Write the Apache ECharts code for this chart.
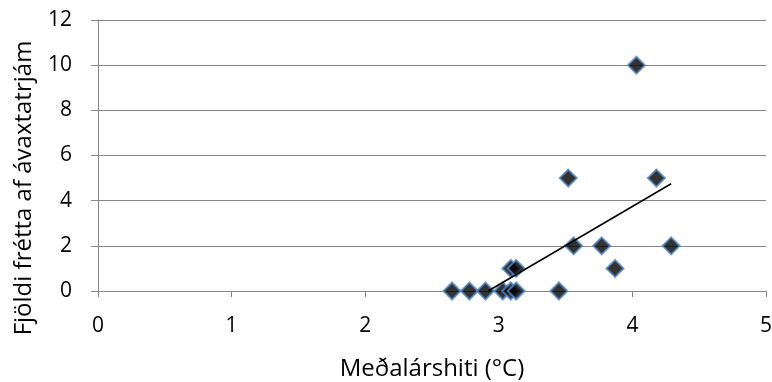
<!DOCTYPE html>
<html>
<head>
<meta charset="utf-8">
<script src="https://cdn.jsdelivr.net/npm/echarts@6/dist/echarts.min.js"></script>
<style>
  html, body { margin: 0; padding: 0; background: #fff; }
  #main { width: 772px; height: 382px; }
</style>
</head>
<body>
<div id="main"></div>
<script>
// meðalárshiti (°C) og fjöldi frétta
let hiti = [2.65, 2.78, 2.90, 3.03, 3.09, 3.13, 3.45, 3.09, 3.13, 3.87, 3.56, 3.77, 4.29, 3.52, 4.18, 4.03];
let frettir = [0, 0, 0, 0, 0, 0, 0, 1, 1, 1, 2, 2, 2, 5, 5, 10];
// trendline endpoints
let trendX = [2.92, 4.29];
let trendY = [0, 4.75];
let xTicks = [0, 1, 2, 3, 4, 5];
let yTicks = [0, 2, 4, 6, 8, 10, 12];

let points = hiti.map((x, i) => [x, frettir[i]]);
let trend = trendX.map((x, i) => [x, trendY[i]]);

let font = 'Open Sans';
let chart = echarts.init(document.getElementById('main'));
chart.setOption({
    animation: false,
    grid: {left: 98, right: 6, top: 20, bottom: 91, outerBoundsMode: 'none', containLabel: false},
    graphic: [{
        type: 'text',
        x: 24,
        y: 188,
        rotation: Math.PI / 2,
        style: {
            text: 'Fjöldi frétta af ávaxtatrjám',
            fontFamily: font,
            fontSize: 24,
            fill: '#000',
            textAlign: 'center',
            textVerticalAlign: 'middle'
        }
    }],
    xAxis: {
        type: 'value',
        min: xTicks[0],
        max: xTicks[xTicks.length - 1],
        interval: 1,
        name: 'Meðalárshiti (°C)',
        nameLocation: 'middle',
        nameGap: 66,
        nameTextStyle: {fontFamily: font, fontSize: 24, color: '#000'},
        axisLine: {lineStyle: {color: '#868686', width: 1}},
        axisTick: {show: true, length: 6, lineStyle: {color: '#868686'}},
        axisLabel: {fontFamily: font, fontSize: 21, color: '#000', margin: 25},
        splitLine: {show: false}
    },
    yAxis: {
        type: 'value',
        min: yTicks[0],
        max: yTicks[yTicks.length - 1],
        interval: 2,
        axisLine: {show: true, lineStyle: {color: '#868686', width: 1}},
        axisTick: {show: true, length: 7, lineStyle: {color: '#868686'}},
        axisLabel: {fontFamily: font, fontSize: 21, color: '#000', margin: 26},
        splitLine: {show: true, lineStyle: {color: '#868686', width: 1}}
    },
    series: [
        {
            type: 'line',
            data: trend,
            symbol: 'none',
            lineStyle: {color: '#000', width: 1.5},
            z: 3
        },
        {
            type: 'scatter',
            data: points,
            symbol: 'diamond',
            symbolSize: 17,
            itemStyle: {color: '#000', borderColor: '#4f86c6', borderWidth: 2},
            z: 2
        }
    ]
});
</script>
</body>
</html>
